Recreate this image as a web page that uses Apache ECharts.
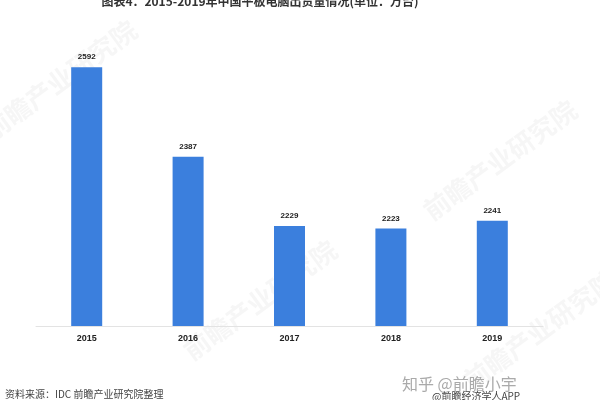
<!DOCTYPE html>
<html><head><meta charset="utf-8">
<script src="https://cdn.jsdelivr.net/npm/echarts@6/dist/echarts.min.js"></script>
<style>html,body{margin:0;padding:0;background:#fff}#c{width:600px;height:400px}</style>
</head><body><div id="c"></div>
<script>
const categories = ['2015', '2016', '2017', '2018', '2019'];
const shipments = [2592, 2387, 2229, 2223, 2241];
const titleText = '图表4：2015-2019年中国平板电脑出货量情况(单位：万台)';
const sourceText = '资料来源：IDC 前瞻产业研究院整理';

const chart = echarts.init(document.getElementById('c'), null, {renderer: 'canvas'});
const wm = (x, y) => ({
  type: 'text', x: x, y: y, rotation: Math.PI / 5, silent: true, z: 0,
  style: {text: '前瞻产业研究院', fill: 'rgba(190,190,190,0.14)',
    font: 'bold 26px "Noto Sans CJK SC"', textAlign: 'center', textVerticalAlign: 'middle'}
});
chart.setOption({
  animation: false,
  backgroundColor: '#fff',
  grid: {left: 36, right: 57, top: 20, bottom: 74},
  xAxis: {
    type: 'category', data: categories,
    axisLine: {lineStyle: {color: '#e3e3e3', width: 1}},
    axisTick: {show: false},
    axisLabel: {color: '#222', fontSize: 9, fontWeight: 'bold', margin: 8, fontFamily: 'Liberation Sans'}
  },
  yAxis: {type: 'value', min: 2000, max: 2700, show: false, splitLine: {show: false}},
  series: [{
    type: 'bar', data: shipments, barWidth: 31,
    itemStyle: {color: '#3b7fdd'},
    label: {show: true, position: 'top', distance: 6, color: '#222', fontSize: 8, fontWeight: 'bold', fontFamily: 'Liberation Sans'}
  }],
  graphic: [
    wm(60, 80), wm(500, 160), wm(260, 300), wm(540, 330),
    {type: 'text', x: 260, y: 1, silent: true,
      style: {text: titleText, font: 'bold 12px "Noto Sans CJK SC"', fill: '#333', textAlign: 'center', textVerticalAlign: 'middle'}},
    {type: 'text', x: 5, y: 394, silent: true,
      style: {text: sourceText, font: '10px "Noto Sans CJK SC"', fill: '#444', textVerticalAlign: 'middle'}},
    {type: 'text', x: 402, y: 384, silent: true,
      style: {text: '知乎 @前瞻小宇', font: '16px "Noto Sans CJK SC"', fill: '#aaa', textVerticalAlign: 'middle'}},
    {type: 'text', x: 432, y: 396, silent: true,
      style: {text: '@前瞻经济学人APP', font: '10px "Noto Sans CJK SC"', fill: '#444', textVerticalAlign: 'middle'}}
  ]
});
</script></body></html>
